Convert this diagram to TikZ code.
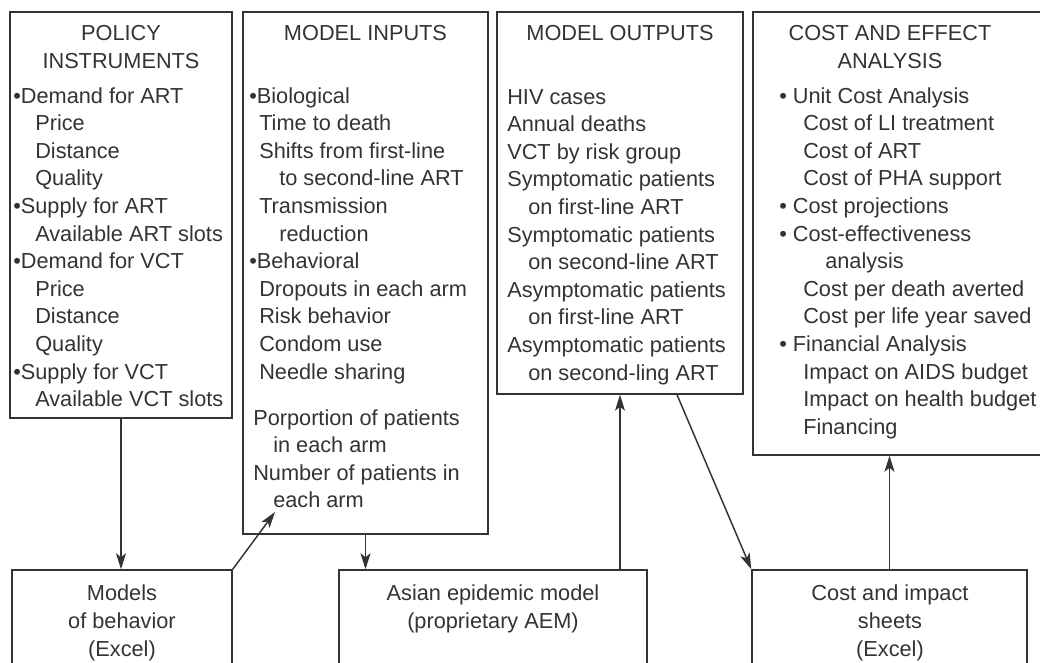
\documentclass[tikz,border=0pt]{standalone}
\usepackage{fontspec}
\setmainfont{Liberation Sans}
\usetikzlibrary{arrows.meta,fit,calc}
\definecolor{ink}{HTML}{333333}
\begin{document}
\begin{tikzpicture}[x=0.75pt,y=-0.75pt,
 box/.style={draw=ink,line width=1.1pt,inner sep=0pt},
 txt/.style={anchor=base west,inner sep=0pt,text=ink,font=\fontsize{16.3}{20}\selectfont},
 ctr/.style={anchor=base,inner sep=0pt,text=ink,font=\fontsize{16.3}{20}\selectfont},
 conn/.style={draw=ink,line width=1.1pt,-{Stealth[length=12pt,width=7.5pt,inset=3pt]}}]
\useasboundingbox (0,0) rectangle (1040,662);
\clip (0,0) rectangle (1040,662);
% boxes
\node[box,fit={(10,12)(232,418)}] (pol) {};
\node[box,fit={(243,12)(488,534)}] (inp) {};
\node[box,fit={(497,12)(743,394)}] (out) {};
\node[box,fit={(753,12)(1070,455)}] (ce) {};
\node[box,fit={(12,570)(232,700)}] (mob) {};
\node[box,fit={(339,570)(647,700)}] (aem) {};
\node[box,fit={(752,570)(1027,700)}] (ci) {};
% policy instruments
\node[ctr] (polt1) at (121,40) {POLICY};
\node[ctr] (polt2) at (121,68) {INSTRUMENTS};
\foreach \ind/\t [count=\i from 0] in {13/{•Demand for ART},35/Price,35/Distance,35/Quality,13/{•Supply for ART},35/{Available ART slots},13/{•Demand for VCT},35/Price,35/Distance,35/Quality,13/{•Supply for VCT},35/{Available VCT slots}}
  \node[txt] (pol-\i) at (\ind,{103+27.6*\i}) {\t};
% model inputs
\node[ctr] (inpt) at (365.5,40) {MODEL INPUTS};
\foreach \ind/\t [count=\i from 0] in {249/{•Biological},259/{Time to death},259/{Shifts from first-line},279/{to second-line ART},259/{Transmission},279/{reduction},249/{•Behavioral},259/{Dropouts in each arm},259/{Risk behavior},259/{Condom use},259/{Needle sharing}}
  \node[txt] (inp-\i) at (\ind,{103+27.6*\i}) {\t};
\node[txt] (inp-p1) at (253,425) {Porportion of patients};
\node[txt] (inp-p2) at (273,452.6) {in each arm};
\node[txt] (inp-p3) at (253,480.2) {Number of patients in};
\node[txt] (inp-p4) at (273,507.8) {each arm};
% model outputs
\node[ctr] (outt) at (620,40) {MODEL OUTPUTS};
\foreach \ind/\t [count=\i from 0] in {507/{HIV cases},507/{Annual deaths},507/{VCT by risk group},507/{Symptomatic patients},528/{on first-line ART},507/{Symptomatic patients},528/{on second-line ART},507/{Asymptomatic patients},528/{on first-line ART},507/{Asymptomatic patients},528/{on second-ling ART}}
  \node[txt] (out-\i) at (\ind,{104+27.6*\i}) {\t};
% cost and effect analysis
\node[ctr] (cet1) at (890,40) {COST AND EFFECT};
\node[ctr] (cet2) at (890,68) {ANALYSIS};
\foreach \ind/\t [count=\i from 0] in {779/{• Unit Cost Analysis},803/{Cost of LI treatment},803/{Cost of ART},803/{Cost of PHA support},779/{• Cost projections},779/{• Cost-effectiveness},825/{analysis},803/{Cost per death averted},803/{Cost per life year saved},779/{• Financial Analysis},803/{Impact on AIDS budget},803/{Impact on health budget},803/{Financing}}
  \node[txt] (ce-\i) at (\ind,{103+27.6*\i}) {\t};
% bottom boxes
\node[ctr] (mob1) at (122,600) {Models};
\node[ctr] (mob2) at (122,628) {of behavior};
\node[ctr] (mob3) at (122,656) {(Excel)};
\node[ctr] (aem1) at (493,600) {Asian epidemic model};
\node[ctr] (aem2) at (493,628) {(proprietary AEM)};
\node[ctr] (ci1) at (890,600) {Cost and impact};
\node[ctr] (ci2) at (890,628) {sheets};
\node[ctr] (ci3) at (890,656) {(Excel)};
% connectors
\coordinate (tip) at (275,512);
\draw[conn] (pol.south) -- (pol.south |- mob.north);
\draw[conn] (mob.north east) -- (tip);
\draw[conn] (inp.south) -- (inp.south |- aem.north);
\draw[conn] (aem.north -| out.south) -- (out.south);
\draw[conn] ($(out.south)+(57,0)$) -- (ci.north west);
\draw[conn] (ci.north) -- (ci.north |- ce.south);
\end{tikzpicture}
\end{document}
